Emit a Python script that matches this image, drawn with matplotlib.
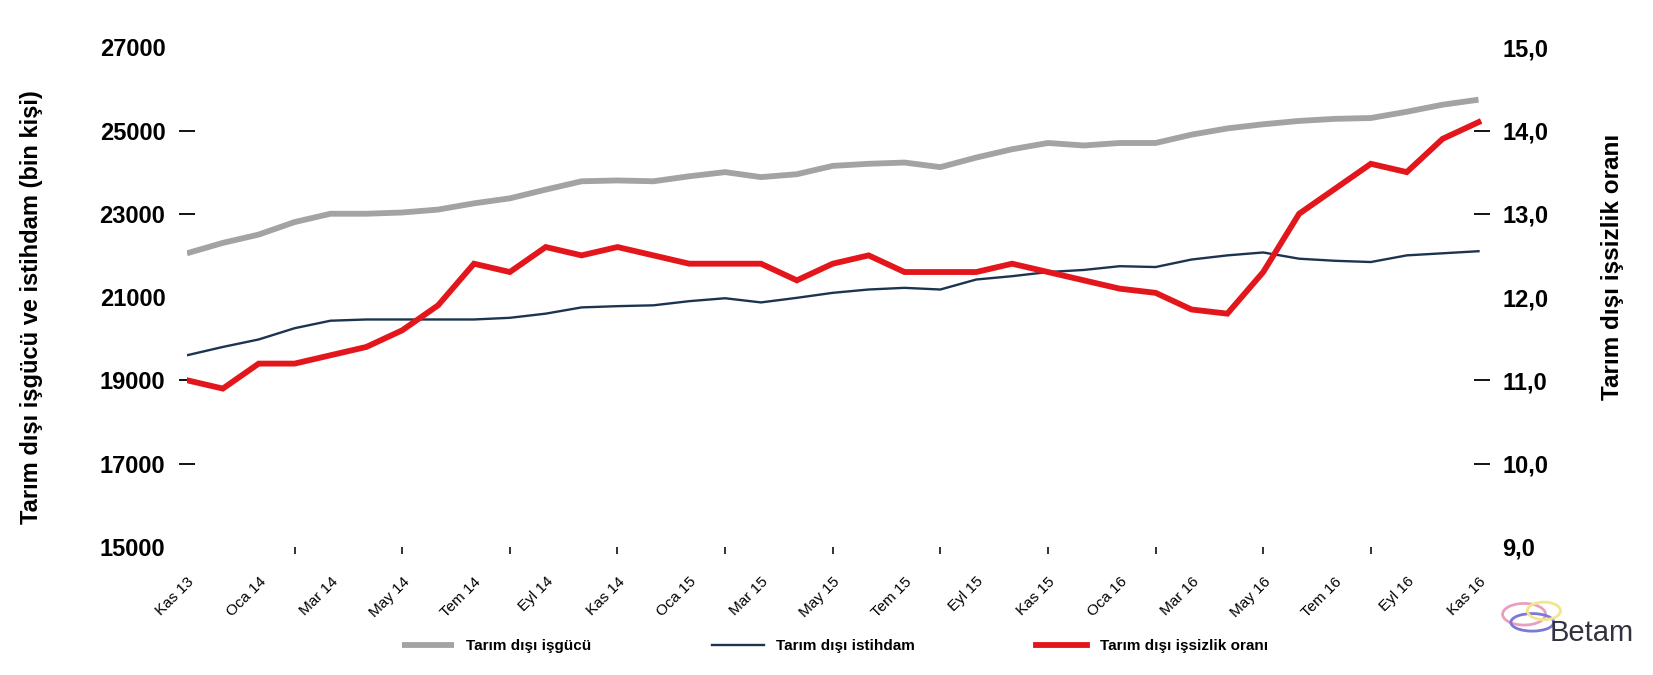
import matplotlib
matplotlib.use("Agg")
import matplotlib.pyplot as plt
from matplotlib.patches import Ellipse

plt.rcParams['font.family'] = ['Liberation Sans Narrow', 'Liberation Sans', 'DejaVu Sans']

months = ["Kas 13", "Ara 13", "Oca 14", "Şub 14", "Mar 14", "Nis 14", "May 14", "Haz 14",
          "Tem 14", "Ağu 14", "Eyl 14", "Eki 14", "Kas 14", "Ara 14", "Oca 15", "Şub 15",
          "Mar 15", "Nis 15", "May 15", "Haz 15", "Tem 15", "Ağu 15", "Eyl 15", "Eki 15",
          "Kas 15", "Ara 15", "Oca 16", "Şub 16", "Mar 16", "Nis 16", "May 16", "Haz 16",
          "Tem 16", "Ağu 16", "Eyl 16", "Eki 16", "Kas 16"]

isgucu = [22050, 22300, 22500, 22800, 23000, 23000, 23030, 23100, 23250, 23370,
          23580, 23780, 23800, 23780, 23900, 24000, 23880, 23950, 24150, 24200,
          24230, 24120, 24350, 24550, 24700, 24640, 24700, 24700, 24900, 25050,
          25150, 25230, 25280, 25300, 25450, 25620, 25740]

istihdam = [19600, 19800, 19980, 20250, 20430, 20460, 20460, 20460, 20460, 20500,
            20600, 20750, 20780, 20800, 20900, 20970, 20870, 20980, 21100, 21180,
            21220, 21180, 21420, 21500, 21600, 21650, 21740, 21720, 21900, 22000,
            22070, 21920, 21870, 21840, 22000, 22050, 22100]

issizlik = [11.0, 10.9, 11.2, 11.2, 11.3, 11.4, 11.6, 11.9, 12.4, 12.3,
            12.6, 12.5, 12.6, 12.5, 12.4, 12.4, 12.4, 12.2, 12.4, 12.5,
            12.3, 12.3, 12.3, 12.4, 12.3, 12.2, 12.1, 12.05, 11.85, 11.8,
            12.3, 13.0, 13.3, 13.6, 13.5, 13.9, 14.1]

left_ticks = [15000, 17000, 19000, 21000, 23000, 25000, 27000]
right_ticks = [9.0, 10.0, 11.0, 12.0, 13.0, 14.0, 15.0]
right_tick_labels = ["9,0", "10,0", "11,0", "12,0", "13,0", "14,0", "15,0"]

legend_labels = ["Tarım dışı işgücü", "Tarım dışı istihdam", "Tarım dışı işsizlik oranı"]

fig = plt.figure(figsize=(16.53, 6.75), dpi=100)
ax = fig.add_axes([0.1131, 0.190, 0.7835, 0.740])
ax2 = ax.twinx()

x = list(range(len(months)))
l1, = ax.plot(x, isgucu, color="#A3A3A3", lw=4.2, solid_capstyle="butt")
l2, = ax.plot(x, istihdam, color="#1C3450", lw=1.7)
l3, = ax2.plot(x, issizlik, color="#E3161C", lw=4.2, solid_joinstyle="miter")

ax.set_xlim(0, 36.1)
ax.set_ylim(15000, 27000)
ax2.set_ylim(9.0, 15.0)

for a in (ax, ax2):
    for s in a.spines.values():
        s.set_visible(False)
    a.set_facecolor("none")

ax.set_yticks(left_ticks)
ax.set_yticklabels([str(v) for v in left_ticks], fontsize=17, fontweight="bold")
ax.tick_params(axis="y", direction="inout", length=11, width=1.3, pad=10)
ax2.set_yticks(right_ticks)
ax2.set_yticklabels(right_tick_labels, fontsize=17, fontweight="bold")
ax2.tick_params(axis="y", direction="inout", length=11, width=1.3, pad=9)

# ticks not drawn in the reference at bottom, middle and top
for a in (ax, ax2):
    ticks = a.yaxis.get_major_ticks()
    for k in (0, 3, 6):
        ticks[k].tick1line.set_visible(False)
        ticks[k].tick2line.set_visible(False)

ax.xaxis.remove_overlapping_locs = False
ax.set_xticks(x[::2])
ax.set_xticklabels(months[::2], rotation=45, ha="right", rotation_mode="anchor", fontsize=11)
ax.tick_params(axis="x", which="major", length=0, pad=20)
ax.set_xticks(x[3:36:3], minor=True)
ax.tick_params(axis="x", which="minor", direction="out", length=5, width=1.3, color="#222222")

ax.set_ylabel("Tarım dışı işgücü ve istihdam (bin kişi)", fontsize=17, fontweight="bold")
ax.yaxis.set_label_coords(-0.111, 0.48)
ax2.set_ylabel("Tarım dışı işsizlik oranı", fontsize=17.5, fontweight="bold")
ax2.yaxis.set_label_coords(1.092, 0.56)

fig.legend([l1, l2, l3], legend_labels, loc="lower center", bbox_to_anchor=(0.505, 0.012),
           ncol=3, frameon=False, handlelength=3.4, columnspacing=7.9,
           prop={"weight": "bold", "size": 11})

# Betam mark
fig.text(0.963, 0.062, "Betam", fontsize=21, color="#333340", ha="center", va="center")
for (cx, cy, w, h, c) in [(0.922, 0.09, 0.026, 0.032, "#e9a0c0"), (0.927, 0.078, 0.026, 0.026, "#7a78d8"),
                          (0.934, 0.095, 0.02, 0.026, "#f3e58a")]:
    fig.patches.append(Ellipse((cx, cy), w, h, transform=fig.transFigure, facecolor="none",
                               edgecolor=c, lw=2))

fig.savefig("out.png", dpi=100, facecolor="white")
